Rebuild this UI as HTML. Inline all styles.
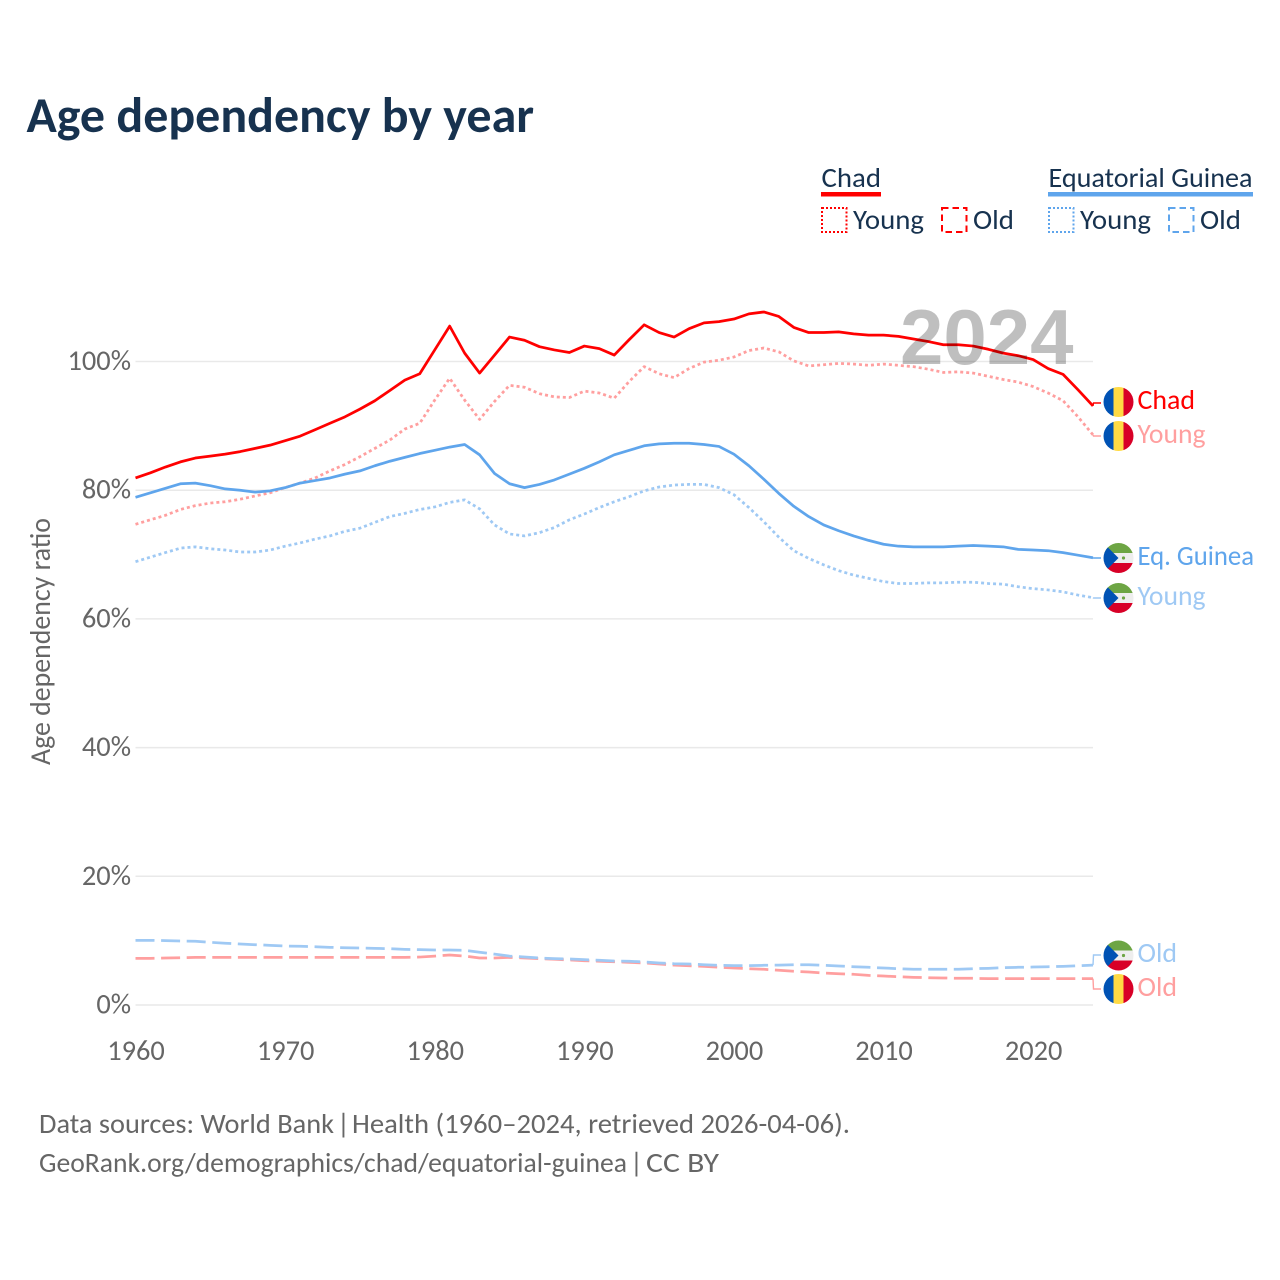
<!DOCTYPE html>
<html lang="en">
<head>
<meta charset="utf-8">
<title>Age dependency by year</title>
<style>
html,body{margin:0;padding:0;background:#fff;width:1280px;height:1280px;overflow:hidden}
svg{display:block}
text{font-family:"Carlito","Lato","Liberation Sans",sans-serif}
.tick{font-size:28.4px;fill:#666}
.foot{font-size:28px;fill:#666}
.leg{font-size:28px;fill:#17324f}
.end{font-size:28px}
</style>
</head>
<body>
<svg id="chart" xmlns="http://www.w3.org/2000/svg" width="1280" height="1280" viewBox="0 0 1280 1280">
  <defs>
    <clipPath id="flag-clip"><circle cx="0" cy="0" r="15"/></clipPath>
  </defs>
  <rect x="0" y="0" width="1280" height="1280" fill="#fff"/>
  <text x="26.5" y="132" font-size="50" font-weight="700" fill="#17324f" textLength="507.5" lengthAdjust="spacingAndGlyphs">Age dependency by year</text>

  <g>
    <g>
      <text class="leg" x="821.5" y="187" textLength="59.5" lengthAdjust="spacingAndGlyphs">Chad</text>
      <rect x="821" y="192" width="60" height="4.5" fill="#ff0000"/>
      <rect x="822" y="208" width="24.5" height="24" fill="none" stroke="#ff0000" stroke-width="2" stroke-dasharray="2 2"/>
      <text class="leg" x="853" y="229" textLength="71" lengthAdjust="spacingAndGlyphs">Young</text>
      <rect x="942" y="208" width="24.5" height="24" fill="none" stroke="#ff0000" stroke-width="2" stroke-dasharray="6.5 4"/>
      <text class="leg" x="973" y="229" textLength="41" lengthAdjust="spacingAndGlyphs">Old</text>
    </g>
    <g>
      <text class="leg" x="1048.5" y="187" textLength="204" lengthAdjust="spacingAndGlyphs">Equatorial Guinea</text>
      <rect x="1048" y="192" width="205" height="4.5" fill="#5fa5ec"/>
      <rect x="1049" y="208" width="24.5" height="24" fill="none" stroke="#5fa5ec" stroke-width="2" stroke-dasharray="2 2"/>
      <text class="leg" x="1080" y="229" textLength="71" lengthAdjust="spacingAndGlyphs">Young</text>
      <rect x="1169" y="208" width="24.5" height="24" fill="none" stroke="#5fa5ec" stroke-width="2" stroke-dasharray="6.5 4"/>
      <text class="leg" x="1200" y="229" textLength="41" lengthAdjust="spacingAndGlyphs">Old</text>
    </g>
  </g>

  <g id="grid"></g>
  <g id="yticks"></g>
  <g id="xticks"></g>
  <text class="tick" transform="translate(50 765) rotate(-90)" x="0" y="0" textLength="247" lengthAdjust="spacingAndGlyphs">Age dependency ratio</text>

  <g id="series"></g>
  <g id="connectors"></g>

  <text x="900" y="364" font-size="78" font-weight="700" fill="#000" fill-opacity="0.25" style='font-family:"Liberation Sans",sans-serif'>2024</text>

  <g>
    <g transform="translate(1118.5 402)" clip-path="url(#flag-clip)">
      <rect x="-15" y="-15" width="10" height="30" fill="#0052b4"/><rect x="-5" y="-15" width="10" height="30" fill="#ffda44"/><rect x="5" y="-15" width="10" height="30" fill="#d80027"/>
    </g>
    <g transform="translate(1118.5 436)" clip-path="url(#flag-clip)">
      <rect x="-15" y="-15" width="10" height="30" fill="#0052b4"/><rect x="-5" y="-15" width="10" height="30" fill="#ffda44"/><rect x="5" y="-15" width="10" height="30" fill="#d80027"/>
    </g>
    <g transform="translate(1118.5 558)" clip-path="url(#flag-clip)">
      <rect x="-15" y="-15" width="30" height="10" fill="#6da544"/><rect x="-15" y="-5" width="30" height="10" fill="#eeeeee"/><rect x="-15" y="5" width="30" height="10" fill="#d80027"/><path d="M-15 -15 L0 0 L-15 15Z" fill="#0052b4"/><circle cx="5" cy="0" r="1.6" fill="#6da544"/>
    </g>
    <g transform="translate(1118.5 598)" clip-path="url(#flag-clip)">
      <rect x="-15" y="-15" width="30" height="10" fill="#6da544"/><rect x="-15" y="-5" width="30" height="10" fill="#eeeeee"/><rect x="-15" y="5" width="30" height="10" fill="#d80027"/><path d="M-15 -15 L0 0 L-15 15Z" fill="#0052b4"/><circle cx="5" cy="0" r="1.6" fill="#6da544"/>
    </g>
    <g transform="translate(1118.5 955.5)" clip-path="url(#flag-clip)">
      <rect x="-15" y="-15" width="30" height="10" fill="#6da544"/><rect x="-15" y="-5" width="30" height="10" fill="#eeeeee"/><rect x="-15" y="5" width="30" height="10" fill="#d80027"/><path d="M-15 -15 L0 0 L-15 15Z" fill="#0052b4"/><circle cx="5" cy="0" r="1.6" fill="#6da544"/>
    </g>
    <g transform="translate(1118.5 989)" clip-path="url(#flag-clip)">
      <rect x="-15" y="-15" width="10" height="30" fill="#0052b4"/><rect x="-5" y="-15" width="10" height="30" fill="#ffda44"/><rect x="5" y="-15" width="10" height="30" fill="#d80027"/>
    </g>
    <text class="end" x="1137.5" y="409" fill="#ff0000" textLength="57.5" lengthAdjust="spacingAndGlyphs">Chad</text>
    <text class="end" x="1137.5" y="443" fill="#ff9f9f" textLength="68" lengthAdjust="spacingAndGlyphs">Young</text>
    <text class="end" x="1137.5" y="565" fill="#5fa5ec" textLength="116.5" lengthAdjust="spacingAndGlyphs">Eq. Guinea</text>
    <text class="end" x="1137.5" y="605" fill="#9fc9f4" textLength="68" lengthAdjust="spacingAndGlyphs">Young</text>
    <text class="end" x="1137.5" y="962" fill="#9fc9f4" textLength="39.5" lengthAdjust="spacingAndGlyphs">Old</text>
    <text class="end" x="1137.5" y="996" fill="#ff9f9f" textLength="39.5" lengthAdjust="spacingAndGlyphs">Old</text>
  </g>

  <g>
    <text class="foot" x="39" y="1133" textLength="295" lengthAdjust="spacingAndGlyphs">Data sources: World Bank</text>
    <text class="foot" x="337" y="1133">|</text>
    <text class="foot" x="352" y="1133" textLength="498" lengthAdjust="spacingAndGlyphs">Health (1960–2024, retrieved 2026-04-06).</text>
  </g>
  <g>
    <text class="foot" x="39" y="1172" textLength="588" lengthAdjust="spacingAndGlyphs">GeoRank.org/demographics/chad/equatorial-guinea</text>
    <text class="foot" x="630" y="1172">|</text>
    <text class="foot" x="646" y="1172" textLength="73" lengthAdjust="spacingAndGlyphs">CC BY</text>
  </g>
</svg>

<script>
const years = [1960,1961,1962,1963,1964,1965,1966,1967,1968,1969,1970,1971,1972,1973,1974,1975,1976,1977,1978,1979,1980,1981,1982,1983,1984,1985,1986,1987,1988,1989,1990,1991,1992,1993,1994,1995,1996,1997,1998,1999,2000,2001,2002,2003,2004,2005,2006,2007,2008,2009,2010,2011,2012,2013,2014,2015,2016,2017,2018,2019,2020,2021,2022,2023,2024];
const xTickLabels = [1960,1970,1980,1990,2000,2010,2020];
const yTickLabels = [0,20,40,60,80,100];

const chadTotal = [81.9,82.7,83.6,84.4,85.0,85.3,85.6,86.0,86.5,87.0,
  87.7,88.4,89.4,90.4,91.4,92.6,93.9,95.5,97.1,98.1,
  101.8,105.5,101.3,98.2,101.0,103.8,103.3,102.3,101.8,101.4,
  102.4,102.0,101.0,103.4,105.7,104.5,103.8,105.1,106.0,106.2,
  106.6,107.4,107.7,107.0,105.3,104.5,104.5,104.6,104.3,104.1,
  104.1,103.9,103.5,103.1,102.6,102.6,102.4,101.9,101.3,100.9,
  100.3,98.9,98.0,95.6,93.1];
const chadYoung = [74.7,75.4,76.1,77.0,77.6,78.0,78.2,78.6,79.1,79.6,
  80.4,81.1,81.9,83.0,84.0,85.2,86.5,87.8,89.5,90.4,
  94.0,97.4,94.0,91.0,93.8,96.3,96.0,95.0,94.5,94.4,
  95.4,95.1,94.3,96.9,99.2,98.1,97.5,98.9,99.9,100.2,
  100.7,101.7,102.1,101.5,100.1,99.3,99.5,99.7,99.6,99.4,
  99.6,99.4,99.2,98.8,98.3,98.4,98.2,97.7,97.2,96.8,
  96.1,95.1,93.9,91.4,88.6];
const chadOld = [7.25,7.25,7.3,7.35,7.4,7.4,7.4,7.4,7.4,7.4,
  7.4,7.4,7.4,7.4,7.4,7.4,7.4,7.4,7.4,7.45,
  7.6,7.77,7.6,7.3,7.3,7.4,7.3,7.2,7.1,7.0,
  6.88,6.8,6.73,6.63,6.53,6.37,6.2,6.1,6.0,5.86,
  5.75,5.64,5.55,5.4,5.24,5.13,4.97,4.86,4.77,4.6,
  4.5,4.4,4.3,4.24,4.2,4.15,4.15,4.09,4.09,4.09,
  4.09,4.09,4.09,4.09,4.09];
const guineaTotal = [78.9,79.6,80.3,81.0,81.1,80.7,80.2,80.0,79.7,79.9,
  80.4,81.1,81.5,81.9,82.5,83.0,83.8,84.5,85.1,85.7,
  86.2,86.7,87.1,85.5,82.6,81.0,80.4,80.9,81.6,82.5,
  83.4,84.4,85.5,86.2,86.9,87.2,87.3,87.3,87.1,86.8,
  85.6,83.8,81.7,79.5,77.5,75.9,74.6,73.7,72.9,72.2,
  71.6,71.3,71.2,71.2,71.2,71.3,71.4,71.3,71.2,70.8,
  70.7,70.6,70.3,69.9,69.5];
const guineaYoung = [68.9,69.6,70.3,71.0,71.2,70.9,70.7,70.4,70.4,70.7,
  71.3,71.8,72.4,72.9,73.6,74.1,75.0,75.9,76.4,77.0,
  77.4,78.1,78.5,77.1,74.6,73.2,72.9,73.4,74.2,75.4,
  76.3,77.3,78.2,79.0,79.9,80.5,80.8,80.9,80.9,80.4,
  79.3,77.3,75.1,72.7,70.6,69.4,68.4,67.5,66.8,66.3,
  65.8,65.5,65.5,65.6,65.6,65.7,65.7,65.5,65.4,65.0,
  64.7,64.5,64.2,63.7,63.3];
const guineaOld = [10.05,10.05,10.0,9.95,9.9,9.74,9.6,9.48,9.37,9.27,
  9.17,9.12,9.06,8.96,8.9,8.86,8.8,8.75,8.65,8.6,
  8.55,8.55,8.5,8.2,7.9,7.6,7.46,7.3,7.2,7.15,
  7.05,6.95,6.84,6.8,6.68,6.53,6.42,6.37,6.26,6.17,
  6.11,6.11,6.17,6.2,6.26,6.26,6.17,6.06,5.95,5.86,
  5.75,5.64,5.55,5.55,5.55,5.55,5.64,5.7,5.8,5.86,
  5.9,5.95,6.0,6.1,6.2];

const NS = 'http://www.w3.org/2000/svg';
const X0 = 135.5, X1 = 1093, Y0 = 1005, Y100 = 361.5;
function xScale(year){ return X0 + (year - years[0]) * (X1 - X0) / (years[years.length - 1] - years[0]); }
function yScale(pct){ return Y0 + pct * (Y100 - Y0) / 100; }
function make(tag, parent, attrs){
  const el = document.createElementNS(NS, tag);
  Object.keys(attrs).forEach(function(k){ el.setAttribute(k, attrs[k]); });
  parent.appendChild(el);
  return el;
}

const gridG = document.getElementById('grid');
const yG = document.getElementById('yticks');
yTickLabels.forEach(function(v){
  const line = make('line', gridG, {x1:X0, x2:X1, y1:yScale(v), y2:yScale(v), stroke:'#e9e9e9', 'stroke-width':1.5});
  
  
  const t = make('text', yG, {x:131, y:yScale(v) + 8.5, 'text-anchor':'end', class:'tick'});
  
  
  t.textContent = v + '%';
});
const xG = document.getElementById('xticks');
xTickLabels.forEach(function(v){
  const t = make('text', xG, {x:xScale(v) + 0.5, y:1060, 'text-anchor':'middle', class:'tick'});
  
  
  t.textContent = String(v);
});

const seriesG = document.getElementById('series');
const connG = document.getElementById('connectors');
function drawSeries(name, values, color, width, dash){
  const d = values.map(function(v, i){
    return (i ? 'L' : 'M') + xScale(years[i]).toFixed(2) + ' ' + yScale(v).toFixed(2);
  }).join('');
  const p = make('path', seriesG, {d:d, fill:'none', stroke:color, 'stroke-width':width, 'stroke-linejoin':'round'});
  if (dash) p.setAttribute('stroke-dasharray', dash);
  
  
}
function drawConnector(name, values, color, labelY){
  const sy = yScale(values[values.length - 1]);
  const c = make('path', connG, {d:'M' + X1 + ' ' + sy.toFixed(2) + 'L' + (X1 + 0.5) + ' ' + labelY + 'L1101 ' + labelY, fill:'none', stroke:color, 'stroke-width':1.4});
  
  
}
const RED = '#ff0000', BLUE = '#5fa5ec', PINK = '#ff9f9f', SKY = '#9fc9f4';
const DOT = '3 3', DASH = '19 6.6';

drawSeries('line-chad-old', chadOld, PINK, 2.75, DASH);
drawSeries('line-guinea-old', guineaOld, SKY, 2.75, DASH);
drawSeries('line-chad-young', chadYoung, PINK, 2.75, DOT);
drawSeries('line-guinea-young', guineaYoung, SKY, 2.75, DOT);
drawSeries('line-guinea-total', guineaTotal, BLUE, 2.75, null);
drawSeries('line-chad-total', chadTotal, RED, 2.75, null);

drawConnector('connector-chad-total', chadTotal, RED, 403);
drawConnector('connector-chad-young', chadYoung, PINK, 436);
drawConnector('connector-guinea-total', guineaTotal, BLUE, 558);
drawConnector('connector-guinea-young', guineaYoung, SKY, 598);
drawConnector('connector-guinea-old', guineaOld, SKY, 955);
drawConnector('connector-chad-old', chadOld, PINK, 989);
</script>
</body>
</html>
